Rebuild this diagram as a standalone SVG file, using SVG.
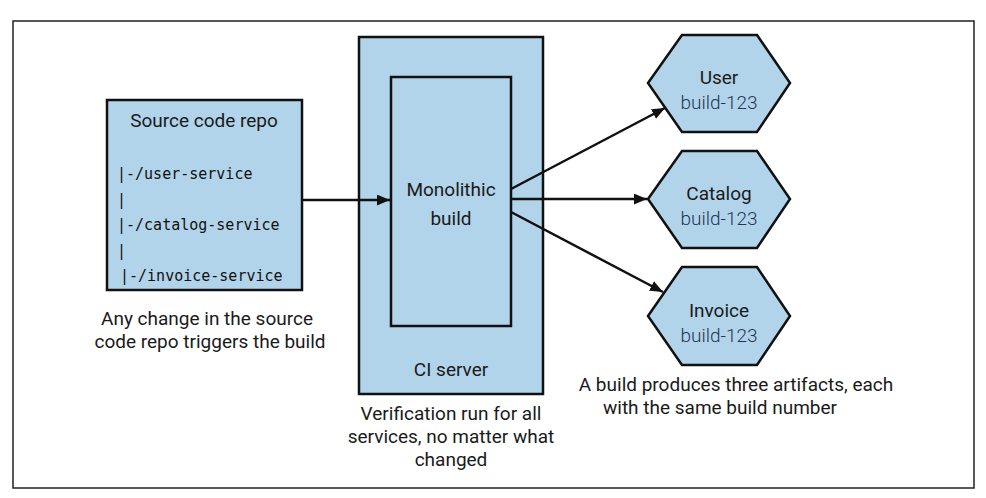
<svg xmlns="http://www.w3.org/2000/svg" width="986" height="498" viewBox="0 0 986 498">
<style>
.box{fill:#b2d4eb;stroke:#111;stroke-width:2.5}
.t{font-family:Roboto,"Liberation Sans",sans-serif;font-size:19px;fill:#1a1a1a;text-anchor:middle}
.b{font-family:Roboto,"Liberation Sans",sans-serif;font-size:19px;fill:#1f3553;text-anchor:middle;font-weight:300}
.m{font-family:"DejaVu Sans Mono",monospace;font-size:15px;fill:#111}
.c{stroke:#111;stroke-width:2.5;fill:none;marker-end:url(#ah)}
</style>
<defs>
<marker id="ah" viewBox="0 0 12 10" refX="12" refY="5" markerWidth="13" markerHeight="11" markerUnits="userSpaceOnUse" orient="auto">
<path d="M0,0 L12,5 L0,10 z" fill="#111"/>
</marker>
</defs>
<rect x="0" y="0" width="986" height="498" fill="#fff"/>
<rect x="13" y="21" width="961" height="467" fill="none" stroke="#222" stroke-width="1.5"/>
<g id="source">
<rect class="box" x="107" y="100" width="195" height="190"/>
<text class="t" x="204" y="127">Source code repo</text>
<text class="m" x="117" y="179">|-/user-service</text>
<text class="m" x="117" y="205">|</text>
<text class="m" x="117" y="230">|-/catalog-service</text>
<text class="m" x="117" y="256">|</text>
<text class="m" x="120" y="281">|-/invoice-service</text>
<text class="t" x="207" y="325">Any change in the source</text>
<text class="t" x="210" y="348">code repo triggers the build</text>
</g>
<g id="ci">
<rect class="box" x="359" y="37" width="184" height="357"/>
<text class="t" x="451" y="376">CI server</text>
<text class="t" x="451" y="420">Verification run for all</text>
<text class="t" x="451" y="443">services, no matter what</text>
<text class="t" x="451" y="466">changed</text>
</g>
<g id="build">
<rect class="box" x="391" y="77" width="120" height="249"/>
<text class="t" x="451" y="196">Monolithic</text>
<text class="t" x="451" y="225">build</text>
</g>
<g id="user">
<polygon class="box" points="648,83 682,35 757,35 790,83 757,132 682,132"/>
<text class="t" x="719" y="84">User</text>
<text class="b" x="719" y="109">build-123</text>
</g>
<g id="catalog">
<polygon class="box" points="648,199 682,151 757,151 790,199 757,248 682,248"/>
<text class="t" x="719" y="200">Catalog</text>
<text class="b" x="719" y="225">build-123</text>
</g>
<g id="invoice">
<polygon class="box" points="648,316 682,267 757,267 790,316 757,365 682,365"/>
<text class="t" x="719" y="317">Invoice</text>
<text class="b" x="719" y="342">build-123</text>
<text class="t" x="736" y="391">A build produces three artifacts, each</text>
<text class="t" x="720" y="414">with the same build number</text>
</g>
<g id="connectors">
<line class="c" x1="302" y1="200" x2="390" y2="200"/>
<line class="c" x1="511" y1="189" x2="665" y2="108"/>
<line class="c" x1="511" y1="199" x2="647" y2="199"/>
<line class="c" x1="511" y1="212" x2="663" y2="292"/>
</g>
</svg>
